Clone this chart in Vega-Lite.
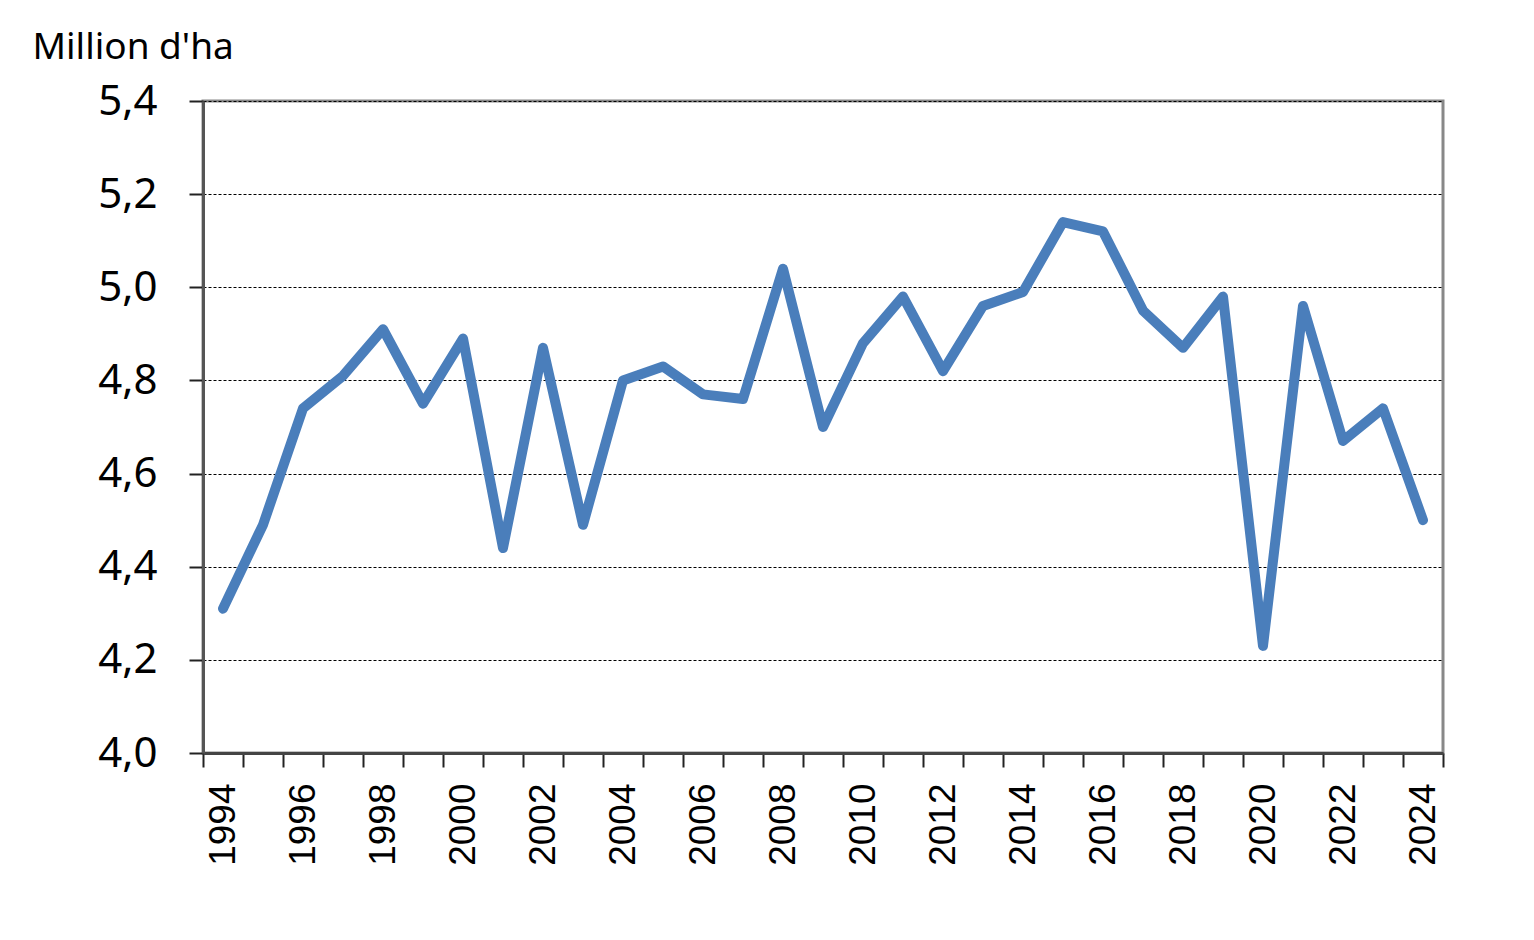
{
  "$schema": "https://vega.github.io/schema/vega-lite/v6.json",
  "width": 1240,
  "height": 652,
  "autosize": {"type": "none"},
  "padding": {"left": 203, "top": 101, "right": 91, "bottom": 187},
  "background": "white",
  "config": {"view": {"stroke": "#888888", "strokeWidth": 3}},
  "data": {"values": [
    {"year": 1994, "value": 4.31},
    {"year": 1995, "value": 4.49},
    {"year": 1996, "value": 4.74},
    {"year": 1997, "value": 4.81},
    {"year": 1998, "value": 4.91},
    {"year": 1999, "value": 4.75},
    {"year": 2000, "value": 4.89},
    {"year": 2001, "value": 4.44},
    {"year": 2002, "value": 4.87},
    {"year": 2003, "value": 4.49},
    {"year": 2004, "value": 4.80},
    {"year": 2005, "value": 4.83},
    {"year": 2006, "value": 4.77},
    {"year": 2007, "value": 4.76},
    {"year": 2008, "value": 5.04},
    {"year": 2009, "value": 4.70},
    {"year": 2010, "value": 4.88},
    {"year": 2011, "value": 4.98},
    {"year": 2012, "value": 4.82},
    {"year": 2013, "value": 4.96},
    {"year": 2014, "value": 4.99},
    {"year": 2015, "value": 5.14},
    {"year": 2016, "value": 5.12},
    {"year": 2017, "value": 4.95},
    {"year": 2018, "value": 4.87},
    {"year": 2019, "value": 4.98},
    {"year": 2020, "value": 4.23},
    {"year": 2021, "value": 4.96},
    {"year": 2022, "value": 4.67},
    {"year": 2023, "value": 4.74},
    {"year": 2024, "value": 4.50}
  ]},
  "mark": {"type": "line", "color": "#4a7ebb", "strokeWidth": 10, "strokeCap": "round", "strokeJoin": "round"},
  "encoding": {
    "x": {
      "field": "year",
      "type": "ordinal",
      "scale": {"type": "band", "paddingInner": 0, "paddingOuter": 0},
      "axis": {
        "title": null,
        "labelAngle": -90,
        "labelAlign": "right",
        "labelBaseline": "middle",
        "labelFont": "Liberation Sans",
        "labelFontSize": 37,
        "labelColor": "#000000",
        "labelPadding": 16,
        "labelExpr": "datum.value % 2 == 0 ? datum.label : ''",
        "tickBand": "extent",
        "tickSize": 14,
        "tickColor": "#222222",
        "tickWidth": 2,
        "domainColor": "#444444",
        "domainWidth": 3,
        "grid": false
      }
    },
    "y": {
      "field": "value",
      "type": "quantitative",
      "scale": {"domain": [4.0, 5.4], "nice": false, "zero": false},
      "axis": {
        "title": "Million d'ha",
        "titleAngle": 0,
        "titleX": -171,
        "titleY": -43,
        "titleAlign": "left",
        "titleBaseline": "alphabetic",
        "titleFont": "Noto Sans",
        "titleFontSize": 37,
        "titleFontWeight": "normal",
        "titleColor": "#000000",
        "values": [4.0, 4.2, 4.4, 4.6, 4.8, 5.0, 5.2, 5.4],
        "labelExpr": "replace(format(datum.value, '.1f'), '.', ',')",
        "labelFont": "Noto Sans",
        "labelFontSize": 42,
        "labelColor": "#000000",
        "labelPadding": 32,
        "tickSize": 14,
        "tickColor": "#222222",
        "tickWidth": 2,
        "domainColor": "#555555",
        "domainWidth": 3,
        "grid": true,
        "gridColor": "#000000",
        "gridWidth": 1,
        "gridDash": [3, 2]
      }
    }
  }
}
